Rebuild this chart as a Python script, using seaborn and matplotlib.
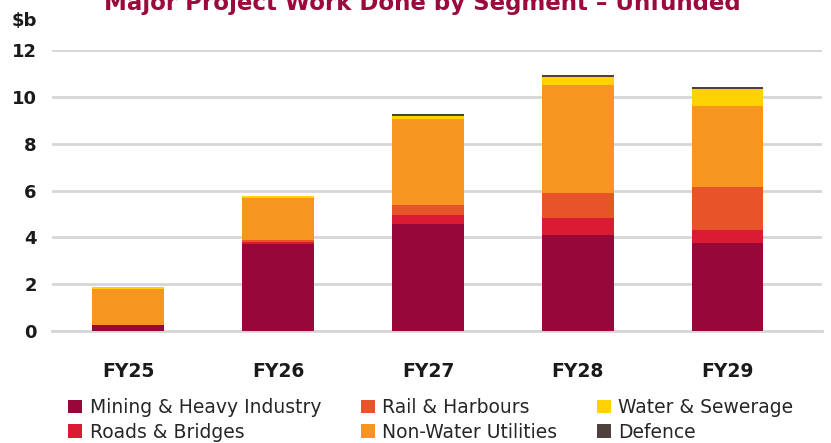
import numpy as np
import pandas as pd
import seaborn as sns
import matplotlib.pyplot as plt
from matplotlib.patches import Patch

years = ["FY25", "FY26", "FY27", "FY28", "FY29"]
segments = ["Mining & Heavy Industry", "Roads & Bridges", "Rail & Harbours",
            "Non-Water Utilities", "Water & Sewerage", "Defence"]
mining = [0.27, 3.73, 4.57, 4.10, 3.76]
roads = [0.00, 0.07, 0.39, 0.74, 0.56]
rail = [0.00, 0.09, 0.42, 1.06, 1.83]
non_water = [1.54, 1.81, 3.68, 4.61, 3.47]
water = [0.08, 0.06, 0.11, 0.36, 0.72]
defence = [0.00, 0.00, 0.10, 0.07, 0.09]
colors = ["#98073A", "#DA1B33", "#E8542A", "#F6951F", "#FFD200", "#4E403C"]

df = pd.DataFrame({"year": years, "Mining & Heavy Industry": mining,
                   "Roads & Bridges": roads, "Rail & Harbours": rail,
                   "Non-Water Utilities": non_water, "Water & Sewerage": water,
                   "Defence": defence})
cum = df[segments].cumsum(axis=1)

sns.set_style("white")
plt.rcParams['font.family'] = ['DejaVu Sans']

fig = plt.figure(figsize=(8.31, 4.43), dpi=100)
ax = fig.add_axes([0.0626, 0.2528, 0.9264, 0.6342])

# stacked bars: draw running totals from the top segment down
for seg, col in reversed(list(zip(segments, colors))):
    sns.barplot(x=df["year"], y=cum[seg], color=col, width=0.48,
                linewidth=0, saturation=1, ax=ax, zorder=3)

ax.set_ylim(0, 12)
ax.set_xlim(-0.51, 4.63)
ax.set_yticks(range(0, 13, 2))
ax.yaxis.grid(True, color="#D6D6D6", linewidth=2, zorder=0)
ax.set_axisbelow(True)
for s in ["top", "right", "left"]:
    ax.spines[s].set_visible(False)
ax.spines["bottom"].set_color("#D6D6D6")
ax.spines["bottom"].set_linewidth(2)
ax.set_xlabel("")
ax.set_ylabel("")
ax.tick_params(axis="both", length=0)
ax.tick_params(axis="y", pad=11, labelsize=13)
ax.tick_params(axis="x", pad=22, labelsize=13.5)
for lab in ax.get_xticklabels() + ax.get_yticklabels():
    lab.set_fontweight("bold")
    lab.set_color("#1A1A1A")

fig.text(0.0144, 0.941, "$b", fontsize=13, fontweight="bold", color="#1A1A1A",
         va="baseline", ha="left")
# title sits partly above the top edge, as in the source
fig.text(0.508, 0.9774, "Major Project Work Done by Segment \u2013 Unfunded",
         fontsize=16.5, fontweight="bold", color="#9A0A3C", ha="center", va="baseline")

handles = [Patch(facecolor=c, edgecolor="none", label=s) for s, c in zip(segments, colors)]
fig.legend(handles=handles, ncol=3, loc="upper left", bbox_to_anchor=(0.082, 0.1016),
           frameon=False, fontsize=13.5, handlelength=0.75, handleheight=0.75,
           handletextpad=0.4, columnspacing=2.1, labelspacing=0.3,
           borderpad=0, borderaxespad=0)

fig.savefig("out.png", dpi=100)
